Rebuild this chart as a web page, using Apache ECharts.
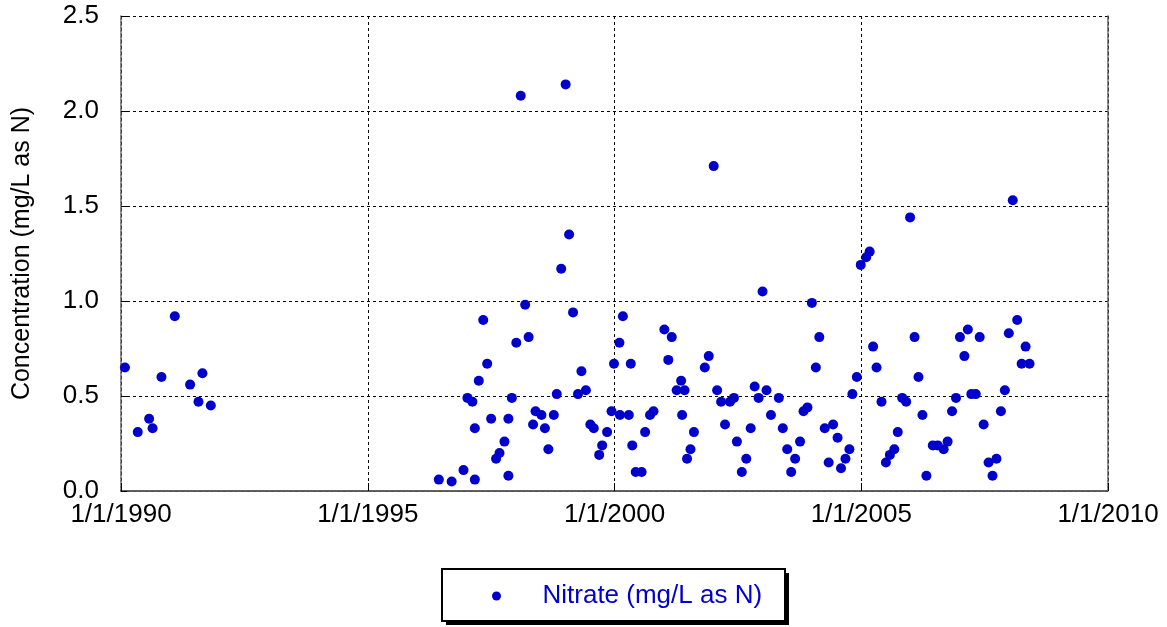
<!DOCTYPE html>
<html>
<head>
<meta charset="utf-8">
<script src="https://cdn.jsdelivr.net/npm/echarts@6/dist/echarts.min.js"></script>
<style>
html,body{margin:0;padding:0;background:#fff;}
#chart{width:1167px;height:627px;}
</style>
</head>
<body>
<div id="chart"></div>
<script>
// Sample dates as decimal years
const sampleYears = [
  1990.08,1990.34,1990.57,1990.64,1990.82,1991.09,1991.40,1991.57,1991.65,1991.82,
  1996.44,1996.70,1996.94,1997.02,1997.12,1997.17,1997.17,1997.25,1997.34,1997.42,
  1997.50,1997.60,1997.67,1997.77,1997.85,1997.85,1997.92,1998.01,1998.10,1998.19,
  1998.26,1998.35,1998.40,1998.52,1998.59,1998.66,1998.77,1998.83,1998.92,1999.01,
  1999.08,1999.16,1999.26,1999.33,1999.42,1999.51,1999.58,1999.69,1999.75,1999.85,
  1999.94,1999.99,2000.10,2000.17,2000.11,2000.29,2000.33,2000.36,2000.43,2000.55,
  2000.62,2000.72,2000.79,2001.01,2001.09,2001.16,2001.26,2001.35,2001.37,2001.42,
  2001.47,2001.54,2001.61,2001.83,2001.91,2002.01,2002.08,2002.16,2002.24,2002.34,
  2002.42,2002.48,2002.58,2002.67,2002.76,2002.84,2002.92,2003.00,2003.08,2003.17,
  2003.33,2003.41,2003.50,2003.58,2003.66,2003.76,2003.83,2003.91,2004.00,2004.08,
  2004.15,2004.26,2004.34,2004.43,2004.52,2004.59,2004.68,2004.76,2004.82,2004.91,
  2004.99,2005.10,2005.17,2005.24,2005.31,2005.41,2005.50,2005.58,2005.67,2005.74,
  2005.83,2005.91,2005.99,2006.08,2006.16,2006.24,2006.32,2006.45,2006.55,2006.67,
  2006.75,2006.84,2006.92,2007.00,2007.09,2007.16,2007.23,2007.32,2007.40,2007.48,
  2007.58,2007.66,2007.74,2007.83,2007.91,2007.99,2008.07,2008.16,2008.25,2008.33,
  2008.41
];
// Nitrate concentration (mg/L as N)
const nitrateValues = [
  0.65,0.31,0.38,0.33,0.60,0.92,0.56,0.47,0.62,0.45,
  0.06,0.05,0.11,0.49,0.47,0.33,0.06,0.58,0.90,0.67,
  0.38,0.17,0.20,0.26,0.38,0.08,0.49,0.78,2.08,0.98,
  0.81,0.35,0.42,0.40,0.33,0.22,0.40,0.51,1.17,2.14,
  1.35,0.94,0.51,0.63,0.53,0.35,0.33,0.19,0.24,0.31,
  0.42,0.67,0.78,0.92,0.40,0.40,0.67,0.24,0.10,0.10,
  0.31,0.40,0.42,0.85,0.69,0.81,0.53,0.58,0.40,0.53,
  0.17,0.22,0.31,0.65,0.71,1.71,0.53,0.47,0.35,0.47,
  0.49,0.26,0.10,0.17,0.33,0.55,0.49,1.05,0.53,0.40,
  0.49,0.33,0.22,0.10,0.17,0.26,0.42,0.44,0.99,0.65,
  0.81,0.33,0.15,0.35,0.28,0.12,0.17,0.22,0.51,0.60,
  1.19,1.23,1.26,0.76,0.65,0.47,0.15,0.19,0.22,0.31,
  0.49,0.47,1.44,0.81,0.60,0.40,0.08,0.24,0.24,0.22,
  0.26,0.42,0.49,0.81,0.71,0.85,0.51,0.51,0.81,0.35,
  0.15,0.08,0.17,0.42,0.53,0.83,1.53,0.90,0.67,0.76,
  0.67
];
const xTickYears = [1990, 1995, 2000, 2005, 2010];
const seriesName = 'Nitrate (mg/L as N)';
const yAxisTitle = 'Concentration (mg/L as N)';

const points = sampleYears.map((y, i) => [y, nitrateValues[i]]);
const FONT = '"Liberation Sans", Arial, sans-serif';
const frameLine = { show: true, lineStyle: { color: '#555', width: 1.5, type: [2, 1] } };

const chart = echarts.init(document.getElementById('chart'), null, { renderer: 'canvas' });
chart.setOption({
  backgroundColor: '#ffffff',
  animation: false,
  grid: { left: 121, right: 59, top: 16, bottom: 136, containLabel: false },
  graphic: [
    { type: 'rect', z: 90, shape: { x: 446, y: 573, width: 343, height: 52 }, style: { fill: '#000' } },
    { type: 'rect', z: 91, shape: { x: 442, y: 569, width: 343, height: 52 }, style: { fill: '#fff', stroke: '#000', lineWidth: 2 } }
  ],
  legend: {
    data: [seriesName],
    left: 478, top: 583,
    z: 100,
    orient: 'horizontal',
    padding: [0, 0, 0, 14],
    itemWidth: 82, itemHeight: 9,
    icon: 'circle',
    textStyle: { color: '#0000cc', fontSize: 26, fontFamily: FONT, lineHeight: 26 }
  },
  xAxis: [{
    type: 'value', min: xTickYears[0], max: xTickYears[xTickYears.length - 1], interval: 5,
    axisLine: frameLine,
    axisTick: { show: true, inside: true, length: 8, lineStyle: { color: '#000' } },
    axisLabel: { color: '#000', fontSize: 26, fontFamily: FONT, margin: 11,
      formatter: v => '1/1/' + v },
    splitLine: { show: true, lineStyle: { color: '#000', type: [3, 3], width: 1 } }
  }, {
    type: 'value', position: 'top', min: 1990, max: 2010, interval: 5,
    axisLine: frameLine, axisTick: { show: false }, axisLabel: { show: false }, splitLine: { show: false }
  }],
  yAxis: [{
    type: 'value', min: 0, max: 2.5, interval: 0.5,
    name: yAxisTitle, nameLocation: 'middle', nameGap: 86, nameRotate: 90,
    nameTextStyle: { color: '#000', fontSize: 25, fontFamily: FONT },
    axisLine: frameLine,
    axisTick: { show: true, inside: true, length: 6, lineStyle: { color: '#000' } },
    axisLabel: { color: '#000', fontSize: 26, fontFamily: FONT, margin: 22,
      formatter: v => v.toFixed(1) },
    splitLine: { show: true, lineStyle: { color: '#000', type: [3, 3], width: 1 } }
  }, {
    type: 'value', position: 'right', min: 0, max: 2.5, interval: 0.5,
    axisLine: frameLine, axisTick: { show: false }, axisLabel: { show: false }, splitLine: { show: false }
  }],
  series: [{
    name: seriesName,
    type: 'scatter',
    data: points,
    symbol: 'circle',
    symbolSize: 10,
    itemStyle: { color: '#0000cc', opacity: 1 }
  }]
});
</script>
</body>
</html>
